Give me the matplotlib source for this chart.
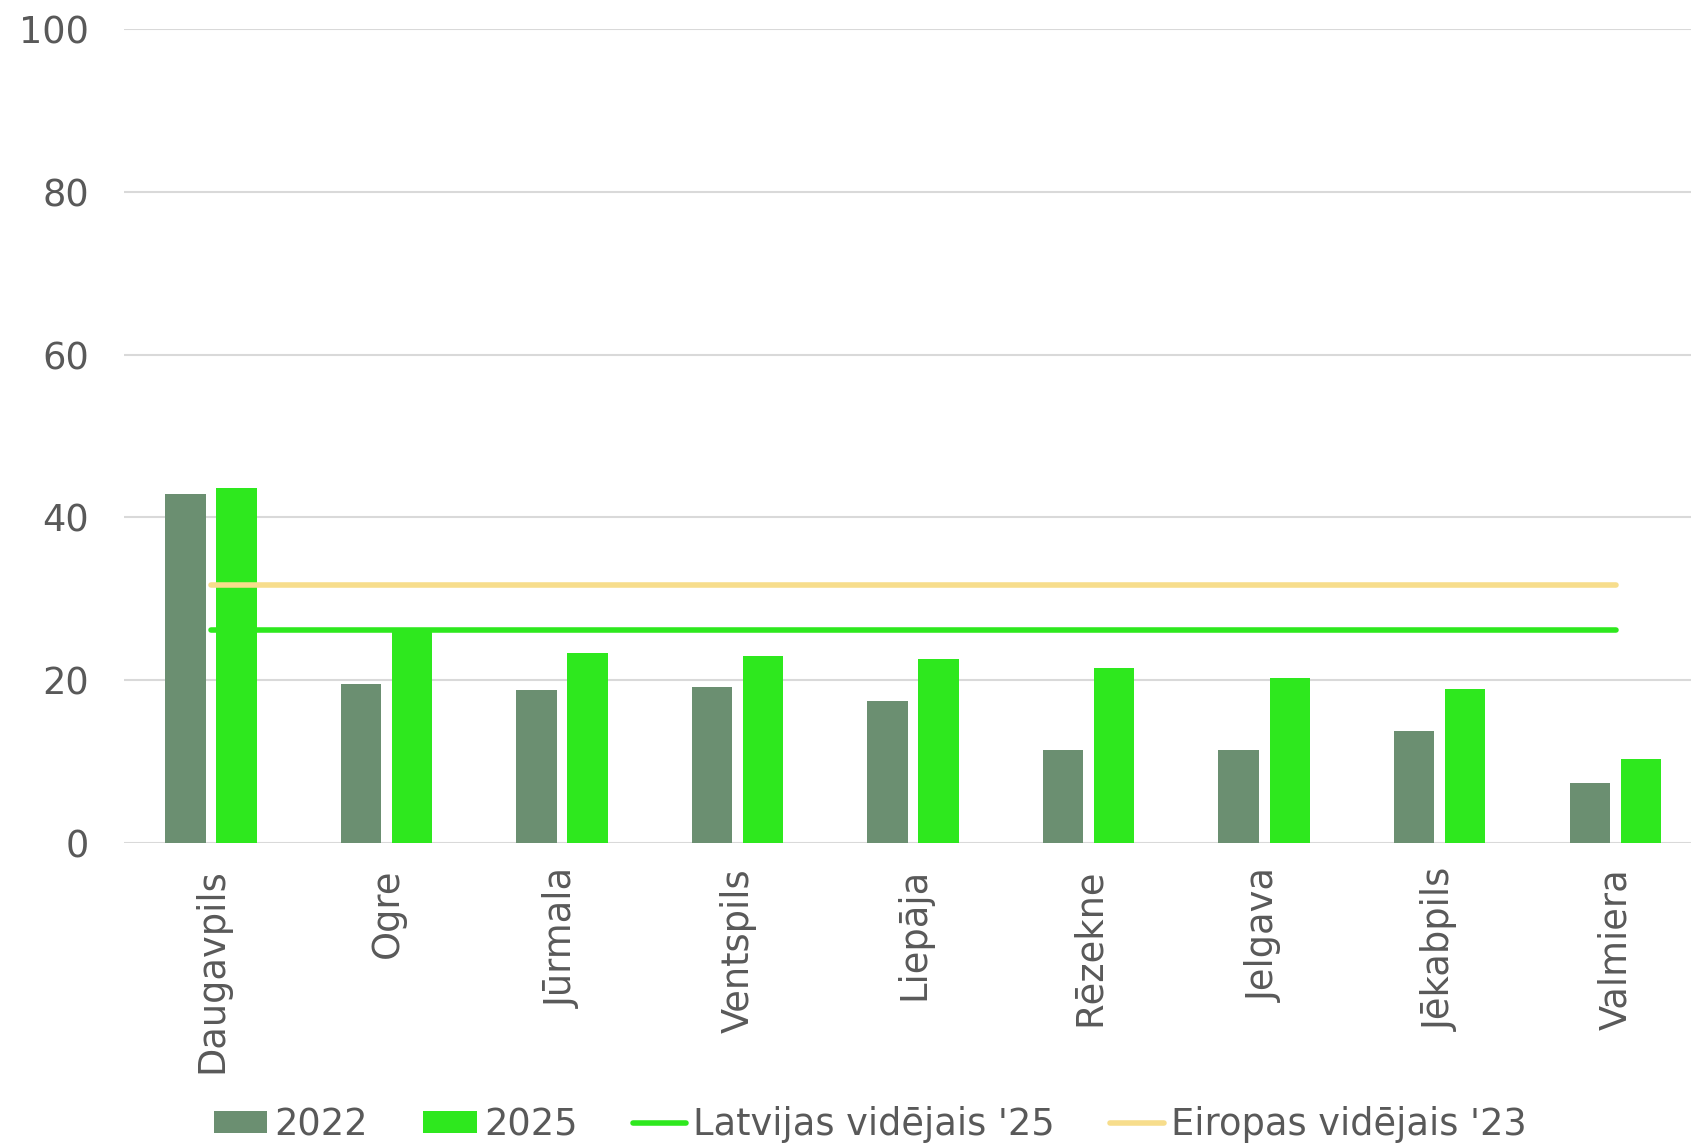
import numpy as np
import matplotlib
matplotlib.use("Agg")
import matplotlib.pyplot as plt

# Dati
pilsetas = ["Daugavpils", "Ogre", "Jūrmala", "Ventspils", "Liepāja",
            "Rēzekne", "Jelgava", "Jēkabpils", "Valmiera"]
v2022 = [42.9, 19.5, 18.8, 19.2, 17.4, 11.5, 11.5, 13.8, 7.4]
v2025 = [43.6, 26.3, 23.4, 23.0, 22.6, 21.5, 20.3, 18.9, 10.3]
latvija_25 = 26.2
eiropa_23 = 31.7

c2022 = "#6b8f71"
c2025 = "#2ee81e"
c_eu = "#f7dd8c"
teksts = "#595959"

plt.rcParams["font.family"] = ["DejaVu Sans"]

fig = plt.figure(figsize=(16.91, 11.44), dpi=100)
ax = fig.add_axes([0.0731, 0.263, 0.9343, 0.7116])

x = np.arange(len(pilsetas))
w = 0.23
b1 = ax.bar(x - 0.148, v2022, width=w, color=c2022, label="2022", zorder=2)
b2 = ax.bar(x + 0.143, v2025, width=w, color=c2025, label="2025", zorder=2)
l1, = ax.plot([x[0], x[-1]], [latvija_25, latvija_25], color=c2025, lw=4,
              solid_capstyle="round", label="Latvijas vidējais '25", zorder=3)
l2, = ax.plot([x[0], x[-1]], [eiropa_23, eiropa_23], color=c_eu, lw=4,
              solid_capstyle="round", label="Eiropas vidējais '23", zorder=3)

ax.set_xlim(-0.5, len(pilsetas) - 0.5)
ax.set_ylim(0, 100)
ax.set_yticks([0, 20, 40, 60, 80, 100])
ax.grid(axis="y", color="#d9d9d9", lw=1.5, zorder=0)
ax.set_axisbelow(True)
for s in ax.spines.values():
    s.set_visible(False)
ax.tick_params(length=0, labelsize=26.5, colors=teksts)
ax.tick_params(axis="y", pad=25)
ax.tick_params(axis="x", pad=18)
ax.set_xticks(x)
ax.set_xticklabels(pilsetas, rotation=90)

# Leģenda apakšā
fig.legend([b1, b2, l1, l2], ["2022", "2025", "Latvijas vidējais '25", "Eiropas vidējais '23"],
           loc="center", bbox_to_anchor=(807 / 1568, 18 / 1061), ncol=4,
           frameon=False, fontsize=26.5, labelcolor=teksts, handlelength=1.45,
           handleheight=0.55, handletextpad=0.2, columnspacing=1.5,
           borderaxespad=0, borderpad=0)

plt.savefig("out.png")
